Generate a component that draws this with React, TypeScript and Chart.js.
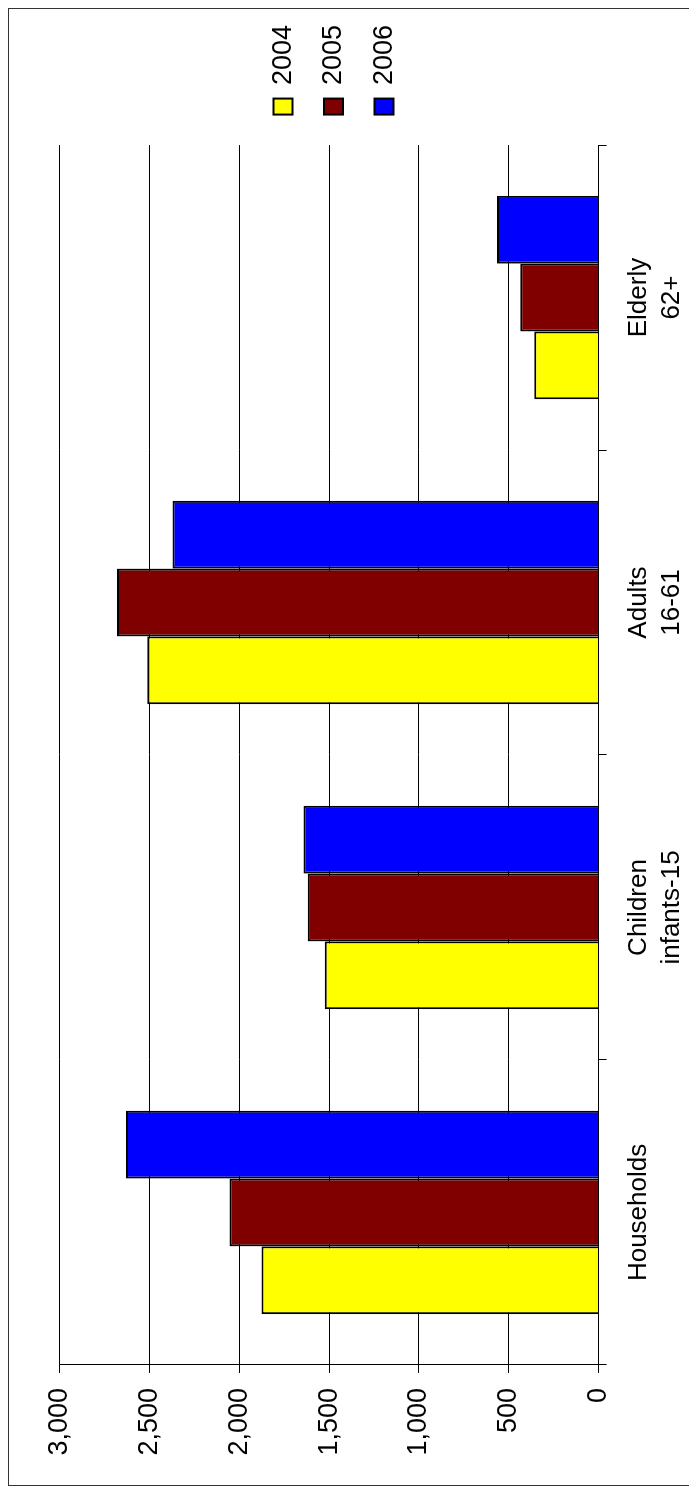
import React, { useEffect, useRef } from "react";
import { Chart, registerables } from "chart.js";

Chart.register(...registerables);

const categories: (string | string[])[] = [
  "Households",
  ["Children", "infants-15"],
  ["Adults", "16-61"],
  ["Elderly", "62+"],
];
const seriesLabels = ["2004", "2005", "2006"];
const values2004 = [1876, 1524, 2512, 358];
const values2005 = [2054, 1619, 2680, 436];
const values2006 = [2630, 1642, 2372, 565];
const valueTicks = [0, 500, 1000, 1500, 2000, 2500, 3000];
const seriesColors = ["#FFFF00", "#800000", "#0000FF"];

const W = 1478;
const H = 700;
const FONT = "'Liberation Sans', Arial, Helvetica, sans-serif";

const legendNudge = {
  id: "legendNudge",
  afterLayout(chart: any) {
    const l = chart.legend;
    if (!l) return;
    l.left += 7;
    l.right += 7;
    l.top += 4.5;
    l.bottom += 4.5;
  },
};

export default function App() {
  const ref = useRef<HTMLCanvasElement>(null);

  useEffect(() => {
    const series = [values2004, values2005, values2006];
    const chart = new Chart(ref.current as HTMLCanvasElement, {
      type: "bar",
      data: {
        labels: categories,
        datasets: seriesLabels.map((label, i) => ({
          label,
          data: series[i],
          backgroundColor: seriesColors[i],
          borderColor: "#000000",
          borderWidth: 2,
          barPercentage: 1,
          categoryPercentage: 0.667,
        })),
      },
      plugins: [legendNudge],
      options: {
        responsive: false,
        animation: false,
        layout: { padding: { left: 15.5, right: 14, top: 51.6, bottom: 3.8 } },
        plugins: {
          tooltip: { enabled: false },
          legend: {
            position: "right",
            fullSize: false,
            align: "center",
            labels: {
              boxWidth: 16,
              boxHeight: 19,
              padding: 23.5,
              color: "#000000",
              textAlign: "left",
              font: { family: FONT, size: 27 },
            },
          },
        },
        scales: {
          x: {
            grid: {
              offset: true,
              drawOnChartArea: false,
              drawTicks: true,
              tickLength: 8,
              color: "#000000",
              lineWidth: 1,
            },
            border: { display: true, color: "#000000", width: 1 },
            ticks: {
              color: "#000000",
              font: { family: FONT, size: 26, lineHeight: 1.3 },
              padding: 15,
              maxRotation: 0,
              minRotation: 0,
              autoSkip: false,
            },
          },
          y: {
            min: 0,
            max: 3000,
            afterBuildTicks: (scale: any) => {
              scale.ticks = valueTicks.map((v) => ({ value: v }));
            },
            grid: { color: "#000000", lineWidth: 1, tickLength: 8 },
            border: { display: true, color: "#000000", width: 1 },
            ticks: {
              color: "#000000",
              font: { family: FONT, size: 27 },
              padding: 15,
              callback: (v: any) => Number(v).toLocaleString("en-US"),
            },
          },
        },
      },
    });
    return () => chart.destroy();
  }, []);

  return (
    <div
      style={{
        position: "absolute",
        left: 0,
        top: 0,
        width: 689,
        height: 1494,
        overflow: "hidden",
        background: "#ffffff",
      }}
    >
      <div
        style={{
          position: "absolute",
          left: 8,
          top: 8,
          width: W,
          height: H,
          transformOrigin: "0 0",
          transform: `translate(0px, ${W}px) rotate(-90deg)`,
        }}
      >
        <canvas
          ref={ref}
          width={W}
          height={H}
          style={{ position: "absolute", left: 0, top: 0, width: W, height: H }}
        />
        <div
          style={{
            position: "absolute",
            left: 0,
            top: 0,
            width: W,
            height: H,
            boxSizing: "border-box",
            border: "1.5px solid #333333",
            pointerEvents: "none",
          }}
        />
      </div>
    </div>
  );
}
